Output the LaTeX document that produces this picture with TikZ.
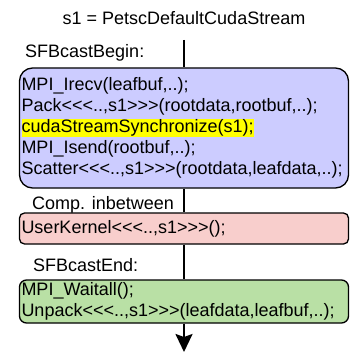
\documentclass[tikz,border=0pt]{standalone}
\usepackage{fontspec}
\setmainfont{Liberation Sans}
\usetikzlibrary{arrows.meta}
\definecolor{bluef}{HTML}{CCCCFF}
\definecolor{redf}{HTML}{F8CECC}
\definecolor{greenf}{HTML}{B9E0A5}
\definecolor{hl}{HTML}{FFFF00}
\begin{document}
\begin{tikzpicture}[x=1pt,y=-1pt,
  every node/.style={font=\fontsize{18}{21}\selectfont},
  codebox/.style={draw=black, line width=1.3pt, minimum width=329pt, inner xsep=2pt, inner ysep=0pt, text width=325pt, align=left},
  lbl/.style={anchor=west, inner sep=0pt},
  flow/.style={line width=2.2pt, draw=black}]
\useasboundingbox (0,0) rectangle (349,352);
\node (title) at (184,18) {s1 = PetscDefaultCudaStream};
\coordinate (top) at (184,40);
\node[lbl] (lb1) at (25,53) {SFBcastBegin:};
\node[codebox, fill=bluef, rounded corners=13pt, minimum height=120pt] (blue) at (184,128)
 {MPI\_Irecv(leafbuf,..);\\
  Pack<{}<{}<..,s1>{}>{}>(rootdata,rootbuf,..);\\
  {\setlength{\fboxsep}{0pt}\colorbox{hl}{\rule[-4pt]{0pt}{18pt}cudaStreamSynchronize(s1);}}\\
  MPI\_Isend(rootbuf,..);\\
  Scatter<{}<{}<..,s1>{}>{}>(rootdata,leafdata,..);};
\node[lbl] (lb2) at (32,205) {Comp. inbetween};
\node[codebox, fill=redf, rounded corners=5pt, minimum height=31pt] (red) at (184,228.5)
 {UserKernel<{}<{}<..,s1>{}>{}>();};
\node[lbl] (lb3) at (33,265) {SFBcastEnd:};
\node[codebox, fill=greenf, rounded corners=7pt, minimum height=43pt] (green) at (184,301.5)
 {MPI\_Waitall();\\
  Unpack<{}<{}<..,s1>{}>{}>(leafdata,leafbuf,..);};
\coordinate (bot) at (184,352);
\draw[flow] (top) -- (blue.north);
\draw[flow] (blue.south) -- (red.north);
\draw[flow] (red.south) -- (green.north);
\draw[flow, -{Stealth[length=18pt,width=17pt,inset=3pt]}] (green.south) -- (bot);
\end{tikzpicture}
\end{document}
